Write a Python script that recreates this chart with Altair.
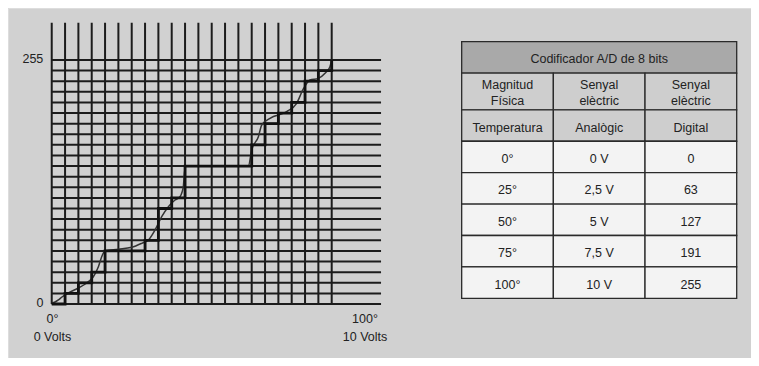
import altair as alt
import pandas as pd

# ---------------- graph data (grid units: u = sample column, j = level) ----------------
n_columns = 22          # vertical grid lines
n_levels = 24           # horizontal grid lines (0 .. 23)

stair_u = [0, 1, 1, 2, 2, 3, 3, 4, 4, 7, 7, 8, 8, 9, 9, 10, 10, 15, 15, 16, 16,
           17, 17, 18, 18, 19, 19, 20, 20, 21, 21]
stair_j = [0, 0, 1, 1, 2, 2, 3, 3, 5, 5, 6, 6, 9, 9, 10, 10, 13, 13, 15, 15, 17,
           17, 18, 18, 19, 19, 21, 21, 22, 22, 23]

analog_u = [0, 0.25, 0.5, 0.77, 1.25, 2.0, 2.63, 3.12, 3.5, 3.8, 4.0, 5.0, 6.0,
            6.75, 7.25, 7.75, 8.25, 8.75, 9.25, 9.62, 9.87, 9.95, 10.07, 14.75,
            15.0, 15.5, 15.75, 16.37, 17.62, 18.37, 18.87, 19.37, 20.0, 20.5,
            20.87, 21.0]
analog_j = [0.07, 0.19, 0.38, 0.66, 1.04, 1.51, 1.98, 2.57, 3.52, 4.62, 5.02,
            5.16, 5.34, 5.72, 6.03, 6.98, 8.23, 9.17, 9.8, 10.11, 11.06, 12.32,
            13.0, 13.0, 14.52, 15.77, 16.87, 17.5, 18.13, 18.92, 20.27, 21.11,
            21.27, 21.75, 22.37, 23.0]

y_tick_values = [0, 255]
x_tick_labels = ["0°", "100°"]
x_volt_labels = ["0 Volts", "10 Volts"]
x_tick_u = [0.05, 23.5]

# ---------------- table data ----------------
table_title = "Codificador A/D de 8 bits"
header_1 = ["Magnitud\nFísica", "Senyal\nelèctric", "Senyal\nelèctric"]
header_2 = ["Temperatura", "Analògic", "Digital"]
temperatures = ["0°", "25°", "50°", "75°", "100°"]
voltages = ["0 V", "2,5 V", "5 V", "7,5 V", "10 V"]
digital = [0, 63, 127, 191, 255]

FONT = "Liberation Sans"
INK = "#1c1c1c"
TXT = "#222222"
BG = "#d1d1d1"
W, H = 743, 350

# ---------------- graph ----------------
top_level = n_levels - 1
vert = pd.DataFrame({"u": list(range(n_columns))})
vert["y0"] = 0
vert["y1"] = top_level + 3.5
horiz = pd.DataFrame({"j": list(range(n_levels))})
horiz["x0"] = 0
horiz["x1"] = n_columns + 2.7

stairs = pd.DataFrame({"u": stair_u, "j": stair_j, "k": range(len(stair_u))})
analog = pd.DataFrame({"u": analog_u, "j": analog_j})

ylab = pd.DataFrame({"label": [str(v) for v in y_tick_values],
                     "j": [v / 255 * top_level for v in y_tick_values]})
ylab["u"] = -0.63
xlab = pd.DataFrame({"deg": x_tick_labels, "volt": x_volt_labels, "u": x_tick_u})
xlab["jd"] = -1.45
xlab["jv"] = -3.1

xs = alt.Scale(domain=[-3.28, 52.45], nice=False, zero=False)
ys = alt.Scale(domain=[-5.09, 27.9], nice=False, zero=False)
X = lambda f: alt.X(f, scale=xs, axis=None)
Y = lambda f: alt.Y(f, scale=ys, axis=None)

vlines = alt.Chart(vert).mark_rule(color=INK, strokeWidth=2).encode(
    x=X("u:Q"), y=Y("y0:Q"), y2="y1:Q")
hlines = alt.Chart(horiz).mark_rule(color=INK, strokeWidth=2).encode(
    y=Y("j:Q"), x=X("x0:Q"), x2="x1:Q")
stair_line = alt.Chart(stairs).mark_line(color="#111111", strokeWidth=2.8).encode(
    x=X("u:Q"), y=Y("j:Q"), order="k:Q")
analog_line = alt.Chart(analog).mark_line(color="#333333", strokeWidth=1.5,
                                          interpolate="monotone").encode(
    x=X("u:Q"), y=Y("j:Q"))
ytext = alt.Chart(ylab).mark_text(font=FONT, fontSize=12.5, color=TXT,
                                  align="right", baseline="middle", dy=-1).encode(
    x=X("u:Q"), y=Y("j:Q"), text="label:N")
deg_text = alt.Chart(xlab).mark_text(font=FONT, fontSize=12.5, color=TXT,
                                     align="center", baseline="middle").encode(
    x=X("u:Q"), y=Y("jd:Q"), text="deg:N")
volt_text = alt.Chart(xlab).mark_text(font=FONT, fontSize=12.5, color=TXT,
                                      align="center", baseline="middle").encode(
    x=X("u:Q"), y=Y("jv:Q"), text="volt:N")

graph = alt.layer(vlines, hlines, analog_line, stair_line, ytext, deg_text,
                  volt_text)

# ---------------- table ----------------
body_rows = [[t, v, str(d)] for t, v, d in zip(temperatures, voltages, digital)]
rows = [[table_title], header_1, header_2] + body_rows
line_step = 0.51
edges = [0.0]
for row in rows:
    lines = max(cell.count("\n") + 1 for cell in row)
    edges.append(edges[-1] + 1 + 0.17 * (lines - 1))

cells, words = [], []
for k, row in enumerate(rows):
    kind = "title" if k == 0 else ("head" if k <= 2 else "data")
    span = 3 / len(row)
    rm = (edges[k] + edges[k + 1]) / 2
    for c, txt in enumerate(row):
        cells.append({"kind": kind, "c0": c * span, "c1": (c + 1) * span,
                      "r0": edges[k], "r1": edges[k + 1]})
        parts = txt.split("\n")
        for l, part in enumerate(parts):
            words.append({"cm": (c + 0.5) * span,
                          "rm": rm + (l - (len(parts) - 1) / 2) * line_step,
                          "text": part})
cells = pd.DataFrame(cells)
words = pd.DataFrame(words)

cs = alt.Scale(domain=[-4.949, 3.156], nice=False, zero=False)
rs = alt.Scale(domain=[-1.073, 10.07], nice=False, zero=False, reverse=True)

rects = alt.Chart(cells).mark_rect(stroke="#2a2a2a", strokeWidth=1.3).encode(
    x=alt.X("c0:Q", scale=cs, axis=None), x2="c1:Q",
    y=alt.Y("r0:Q", scale=rs, axis=None), y2="r1:Q",
    fill=alt.Fill("kind:N", scale=alt.Scale(domain=["title", "head", "data"],
                                            range=["#a9a9a9", "#cecece", "#f3f3f3"]),
                  legend=None))
texts = alt.Chart(words).mark_text(font=FONT, fontSize=12.5, color=TXT,
                                   align="center", baseline="middle", dy=2).encode(
    x=alt.X("cm:Q", scale=cs, axis=None), y=alt.Y("rm:Q", scale=rs, axis=None),
    text="text:N")

table = alt.layer(rects, texts)

chart = alt.layer(graph, table).resolve_scale(
    x="independent", y="independent"
).properties(width=W, height=H, padding=0).configure_view(
    stroke=None).configure(background=BG)

chart.save("out.html", embed_options={"renderer": "svg", "actions": False})
